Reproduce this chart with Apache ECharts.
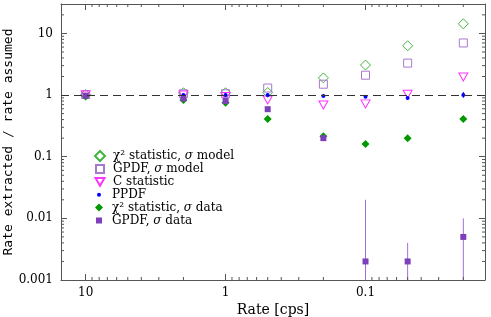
<!DOCTYPE html>
<html><head><meta charset="utf-8">
<script src="https://cdn.jsdelivr.net/npm/echarts@6/dist/echarts.min.js"></script>
<style>html,body{margin:0;padding:0;background:#fff}#c{width:491px;height:317px}</style>
</head><body><div id="c"></div>
<script>
// ---- data ----
const rates      = [10, 2, 1, 0.5, 0.2, 0.1, 0.05, 0.02];
const chi2Model  = [1.02, 1.09, 1.09, 1.10, 1.9, 3.07, 6.3, 14.3];
const gpdfModel  = [1.02, 1.05, 1.05, 1.30, 1.5, 2.1, 3.3, 7.0];
const cStat      = [1.00, 1.00, 0.95, 0.83, 0.69, 0.72, 1.03, 1.96];
const ppdf       = [1.00, 1.00, 1.00, 1.00, 0.97, 0.94, 0.90, 1.00];
const ppdfLow    = [null, null, null, null, null, null, null, 0.90];
const ppdfHigh   = [null, null, null, null, null, null, null, 1.12];
const chi2Data   = [0.95, 0.83, 0.75, 0.41, 0.215, 0.16, 0.20, 0.41];
const gpdfData   = [0.98, 0.88, 0.80, 0.59, 0.20, 0.002, 0.002, 0.005];
const gpdfLow    = [null, null, null, null, null, 0.0003, 0.0003, 0.0003];
const gpdfHigh   = [null, null, null, null, null, 0.02, 0.004, 0.01];
const xRange     = [0.014, 15];
const yRange     = [0.001, 30];
const xTickLabels = ['10', '1', '0.1'];
const yTickLabels = ['10', '1', '0.1', '0.01', '0.001'];
const refLevel   = 1;
const seriesNames = ['chi2m', 'gpdfm', 'cstat', 'ppdf', 'chi2d', 'gpdfd'];
const legendLabels = [
  'χ² statistic, {i|σ} model',
  'GPDF, {i|σ} model',
  'C statistic',
  'PPDF',
  'χ² statistic, {i|σ} data',
  'GPDF, {i|σ} data'
];

// ---- helpers ----
const FONT = 'DejaVu Serif';
function pts(ys) { return rates.map((x, i) => ys[i] == null ? null : [x, ys[i]]).filter(Boolean); }
function errs(lo, hi) { return rates.map((x, i) => lo[i] == null ? null : [x, lo[i], hi[i]]).filter(Boolean); }
function minorTicks(a, b) {
  const out = [];
  for (let e = -4; e <= 3; e++) for (let m = 2; m <= 9; m++) {
    const v = m * Math.pow(10, e);
    if (v > a * 1.0001 && v < b * 0.9999) out.push(+v.toPrecision(3));
  }
  return out;
}
function labelFmt(labels) {
  return function (v) {
    const s = labels.find(l => Math.abs(Math.log10(parseFloat(l)) - Math.log10(v)) < 1e-6);
    return s || '';
  };
}
function errRender(color) {
  return function (params, api) {
    const cs = params.coordSys;
    const x = api.value(0), lo = api.value(1), hi = api.value(2);
    const p1 = api.coord([x, hi]), p2 = api.coord([x, lo]);
    const clampY = y => Math.max(cs.y, Math.min(cs.y + cs.height, y));
    return { type: 'line', shape: { x1: p1[0], y1: clampY(p1[1]), x2: p1[0], y2: clampY(p2[1]) },
             style: { stroke: color, lineWidth: 1 } };
  };
}
const AX = '#555';
const DOWN_TRI = 'path://M0,0 L10,0 L5,8.66 Z';
const styles = {
  chi2m: { symbol: 'diamond', size: 10, lw: 10, lh: 10, rot: 0, fill: 'rgba(0,0,0,0)', border: '#3fb33f', bw: 1 },
  gpdfm: { symbol: 'rect', size: 8, lw: 8, lh: 8, rot: 0, fill: 'rgba(0,0,0,0)', border: '#a878cc', bw: 1 },
  cstat: { symbol: DOWN_TRI, size: [9, 8], lw: 9, lh: 8, rot: 0, fill: 'rgba(0,0,0,0)', border: '#ff33ff', bw: 1 },
  ppdf:  { symbol: 'circle', size: 4, lw: 4, lh: 4, rot: 0, fill: '#0000ff', border: '#0000ff', bw: 0 },
  chi2d: { symbol: 'diamond', size: 8, lw: 8, lh: 8, rot: 0, fill: '#009900', border: '#009900', bw: 0 },
  gpdfd: { symbol: 'rect', size: 6, lw: 6, lh: 6, rot: 0, fill: '#7d40b8', border: '#7d40b8', bw: 0 }
};
const values = { chi2m: chi2Model, gpdfm: gpdfModel, cstat: cStat, ppdf: ppdf, chi2d: chi2Data, gpdfd: gpdfData };

const chart = echarts.init(document.getElementById('c'), null, { renderer: 'canvas' });
const grid = { left: 61, top: 4, right: 6, bottom: 37, containLabel: false, outerBoundsMode: 'none' };

const mkX = (pos, show) => ({
  type: 'log', logBase: 10, min: xRange[0], max: xRange[1], inverse: true, position: pos, gridIndex: 0,
  axisLine: { show: true, lineStyle: { color: AX, width: 1 } },
  axisTick: { show: true, inside: true, length: 6, lineStyle: { color: AX } },
  axisLabel: { show: show, formatter: labelFmt(xTickLabels), color: '#000', fontFamily: FONT, fontSize: 12, margin: 7 },
  splitLine: { show: false }, minorTick: { show: false },
  name: show ? 'Rate [cps]' : '', nameLocation: 'middle', nameGap: 23, nameMoveOverlap: false,
  nameTextStyle: { color: '#000', fontFamily: FONT, fontSize: 14 }
});
const mkY = (pos, show) => ({
  type: 'log', logBase: 10, min: yRange[0], max: yRange[1], position: pos, gridIndex: 0,
  axisLine: { show: true, lineStyle: { color: AX, width: 1 } },
  axisTick: { show: true, inside: true, length: 6, lineStyle: { color: AX } },
  axisLabel: { show: show, formatter: labelFmt(yTickLabels), color: '#000', fontFamily: FONT, fontSize: 12, margin: 8 },
  splitLine: { show: false }, minorTick: { show: false },
  name: show ? 'Rate extracted / rate assumed' : '', nameLocation: 'middle', nameGap: 46, nameMoveOverlap: false,
  nameTextStyle: { color: '#000', fontFamily: 'DejaVu Sans Mono', fontSize: 13 }
});

const series = [];
// dashed reference line
series.push({ type: 'scatter', name: 'ref', data: [], z: 1, silent: true,
  markLine: { silent: true, symbol: 'none', label: { show: false }, animation: false,
    lineStyle: { type: [8, 5], color: '#333', width: 1 }, data: [{ yAxis: refLevel }] } });
// minor ticks
const xm = minorTicks(xRange[0], xRange[1]);
const ym = minorTicks(yRange[0], yRange[1]);
series.push({ type: 'custom', name: 'xminor', silent: true, z: 3, clip: false,
  data: xm.map(v => [v, 1]), encode: { x: 0, y: 1 },
  renderItem: (params, api) => {
    const cs = params.coordSys; const x = api.coord([api.value(0), 1])[0];
    return { type: 'group', children: [
      { type: 'line', shape: { x1: x, y1: cs.y + cs.height, x2: x, y2: cs.y + cs.height - 3 }, style: { stroke: AX, lineWidth: 1 } },
      { type: 'line', shape: { x1: x, y1: cs.y, x2: x, y2: cs.y + 3 }, style: { stroke: AX, lineWidth: 1 } }
    ] };
  } });
series.push({ type: 'custom', name: 'yminor', silent: true, z: 3, clip: false,
  data: ym.map(v => [1, v]), encode: { x: 0, y: 1 },
  renderItem: (params, api) => {
    const cs = params.coordSys; const y = api.coord([1, api.value(1)])[1];
    return { type: 'group', children: [
      { type: 'line', shape: { x1: cs.x, y1: y, x2: cs.x + 3, y2: y }, style: { stroke: AX, lineWidth: 1 } },
      { type: 'line', shape: { x1: cs.x + cs.width, y1: y, x2: cs.x + cs.width - 3, y2: y }, style: { stroke: AX, lineWidth: 1 } }
    ] };
  } });
// error bars
series.push({ type: 'custom', name: 'gpdfErr', silent: true, z: 2, data: errs(gpdfLow, gpdfHigh),
  encode: { x: 0, y: [1, 2] }, renderItem: errRender('#a070d8') });
series.push({ type: 'custom', name: 'ppdfErr', silent: true, z: 2, data: errs(ppdfLow, ppdfHigh),
  encode: { x: 0, y: [1, 2] }, renderItem: errRender('#0000ff') });
// markers
seriesNames.forEach(n => {
  const s = styles[n];
  series.push({ type: 'scatter', name: n, data: pts(values[n]), z: 4,
    symbol: s.symbol, symbolSize: s.size, symbolRotate: s.rot,
    itemStyle: { color: s.fill, borderColor: s.border, borderWidth: s.bw, opacity: 1 } });
});

const ICON_CX = 99, TEXT_X = 112, ROW0 = 157, ROW_STEP = 12.9, HALF_ROW = 7;
const legends = seriesNames.map((n, i) => {
  const s = styles[n];
  const left = ICON_CX - s.lw / 2;
  const padL = TEXT_X - (left + s.lw + 5);
  return {
    left: left, top: ROW0 + ROW_STEP * i - HALF_ROW, padding: 0, itemWidth: s.lw, itemHeight: s.lh,
    selectedMode: false, data: [n],
    formatter: () => legendLabels[i],
    textStyle: { color: '#000', fontFamily: FONT, fontSize: 12, padding: [0, 0, 0, padL],
      rich: { i: { fontStyle: 'italic', fontFamily: FONT, fontSize: 12, color: '#000' } } }
  };
});

chart.setOption({
  animation: false,
  backgroundColor: '#fff',
  grid: grid,
  xAxis: [mkX('bottom', true), mkX('top', false)],
  yAxis: [mkY('left', true), mkY('right', false)],
  legend: legends,
  series: series
});
</script></body></html>
